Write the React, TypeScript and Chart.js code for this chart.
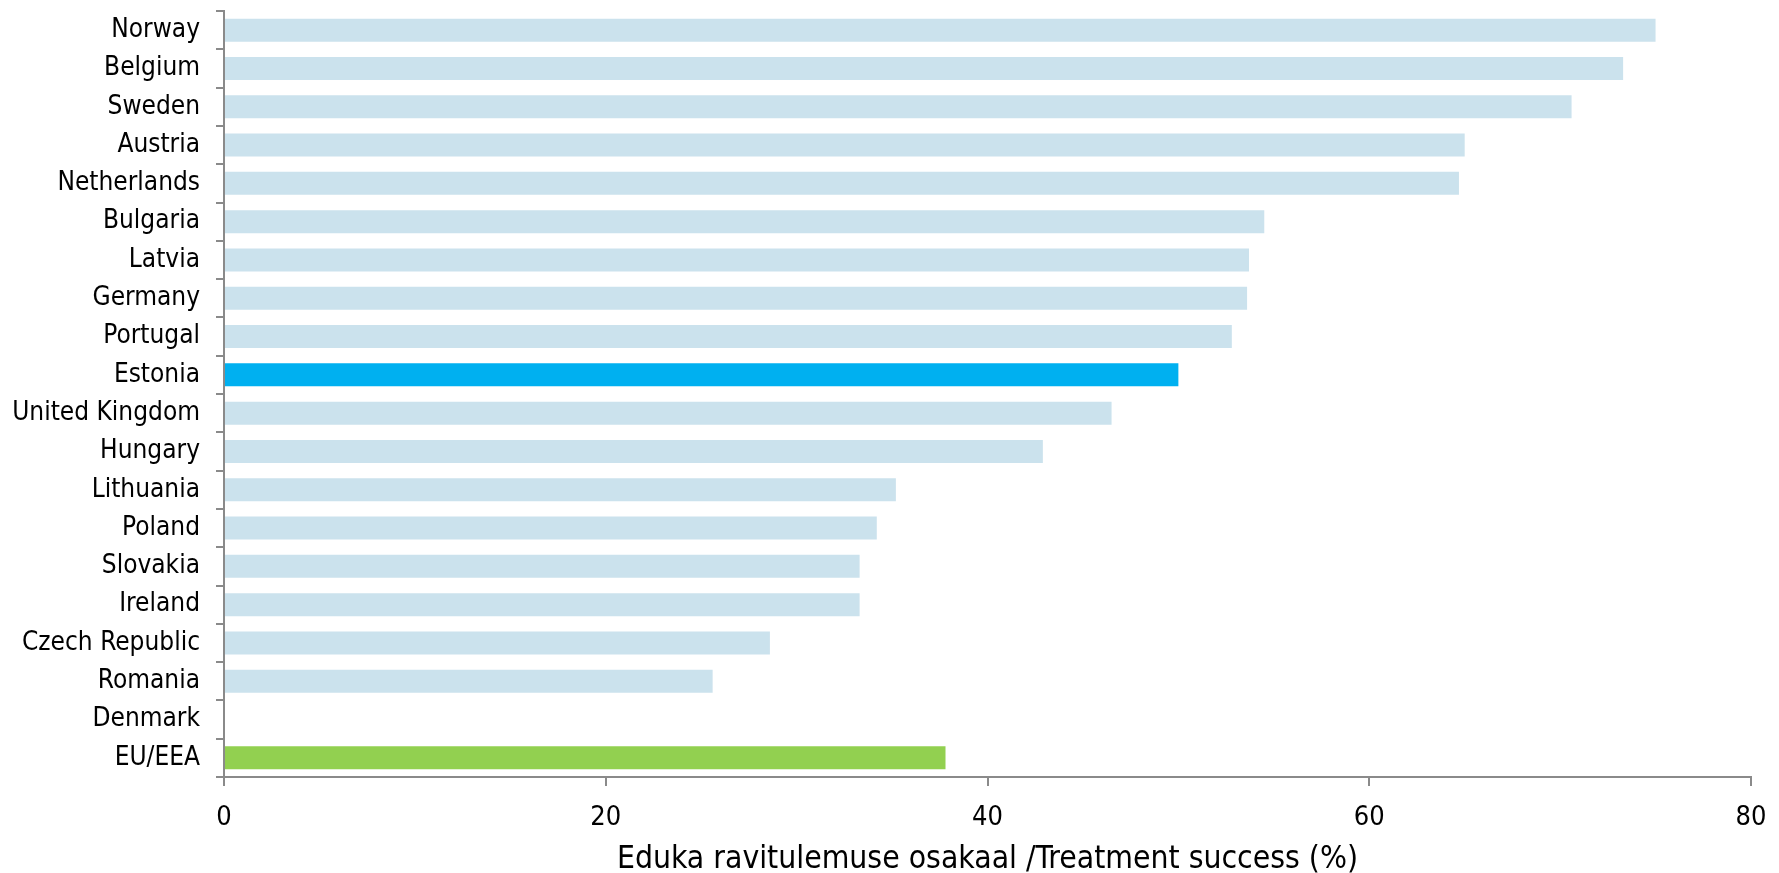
import React, { useEffect, useRef } from "react";
import { Chart, registerables } from "chart.js";

Chart.register(...registerables);

// Countries, top to bottom
const countries: string[] = [
  "Norway",
  "Belgium",
  "Sweden",
  "Austria",
  "Netherlands",
  "Bulgaria",
  "Latvia",
  "Germany",
  "Portugal",
  "Estonia",
  "United Kingdom",
  "Hungary",
  "Lithuania",
  "Poland",
  "Slovakia",
  "Ireland",
  "Czech Republic",
  "Romania",
  "Denmark",
  "EU/EEA",
];

// Treatment success, % (Denmark: no data)
const successRate: (number | null)[] = [
  75.0, 73.3, 70.6, 65.0, 64.7, 54.5, 53.7, 53.6, 52.8, 50.0,
  46.5, 42.9, 35.2, 34.2, 33.3, 33.3, 28.6, 25.6, null, 37.8,
];

const xTicks: number[] = [0, 20, 40, 60, 80];

const axisTitle = "Eduka ravitulemuse osakaal /Treatment success (%)";

const BAR_DEFAULT = "#cbe2ed";
const BAR_ESTONIA = "#00b0f0";
const BAR_EU = "#92d050";
const AXIS_GREY = "#8a8a8a";
const FONT = '"DejaVu Sans Condensed", "DejaVu Sans", sans-serif';

function barColour(name: string): string {
  if (name === "Estonia") return BAR_ESTONIA;
  if (name === "EU/EEA") return BAR_EU;
  return BAR_DEFAULT;
}

export default function App() {
  const canvasRef = useRef<HTMLCanvasElement | null>(null);

  useEffect(() => {
    document.body.style.margin = "0";
    const canvas = canvasRef.current;
    if (!canvas) return;

    const chart = new Chart(canvas, {
      type: "bar",
      data: {
        labels: countries,
        datasets: [
          {
            data: successRate,
            backgroundColor: countries.map(barColour),
            borderWidth: 0,
            barPercentage: 0.6,
            categoryPercentage: 1,
          },
        ],
      },
      options: {
        indexAxis: "y",
        responsive: false,
        animation: false,
        layout: { padding: { top: 11, right: 28, left: 0, bottom: 0 } },
        plugins: {
          legend: { display: false },
          tooltip: { enabled: false },
        },
        scales: {
          x: {
            type: "linear",
            min: 0,
            max: 80,
            afterBuildTicks: (scale: any) => {
              scale.ticks = xTicks.map((v) => ({ value: v }));
            },
            afterFit: (scale: any) => {
              scale.height = 96;
              scale.paddingLeft = 0;
              scale.paddingRight = 0;
            },
            border: { display: true, color: AXIS_GREY, width: 2 },
            grid: {
              drawOnChartArea: false,
              drawTicks: true,
              tickLength: 9,
              color: AXIS_GREY,
              lineWidth: 2,
            },
            ticks: {
              color: "#000",
              padding: 16,
              font: { family: FONT, size: 27 },
            },
            title: {
              display: true,
              text: axisTitle,
              color: "#000",
              font: { family: FONT, size: 31.6, lineHeight: 1 },
              padding: { top: 0, bottom: -3 },
            },
          },
          y: {
            type: "category",
            afterFit: (scale: any) => {
              scale.width = 224;
              scale.paddingTop = 0;
              scale.paddingBottom = 0;
            },
            border: { display: true, color: AXIS_GREY, width: 2 },
            grid: {
              offset: true,
              drawOnChartArea: false,
              drawTicks: true,
              tickLength: 8,
              color: AXIS_GREY,
              lineWidth: 2,
            },
            ticks: {
              color: "#000",
              padding: 16,
              autoSkip: false,
              font: { family: FONT, size: 26 },
            },
          },
        },
      },
    });

    return () => chart.destroy();
  }, []);

  return (
    <div style={{ width: 1779, height: 873, background: "#fff" }}>
      <canvas ref={canvasRef} width={1779} height={873} style={{ display: "block" }} />
    </div>
  );
}
